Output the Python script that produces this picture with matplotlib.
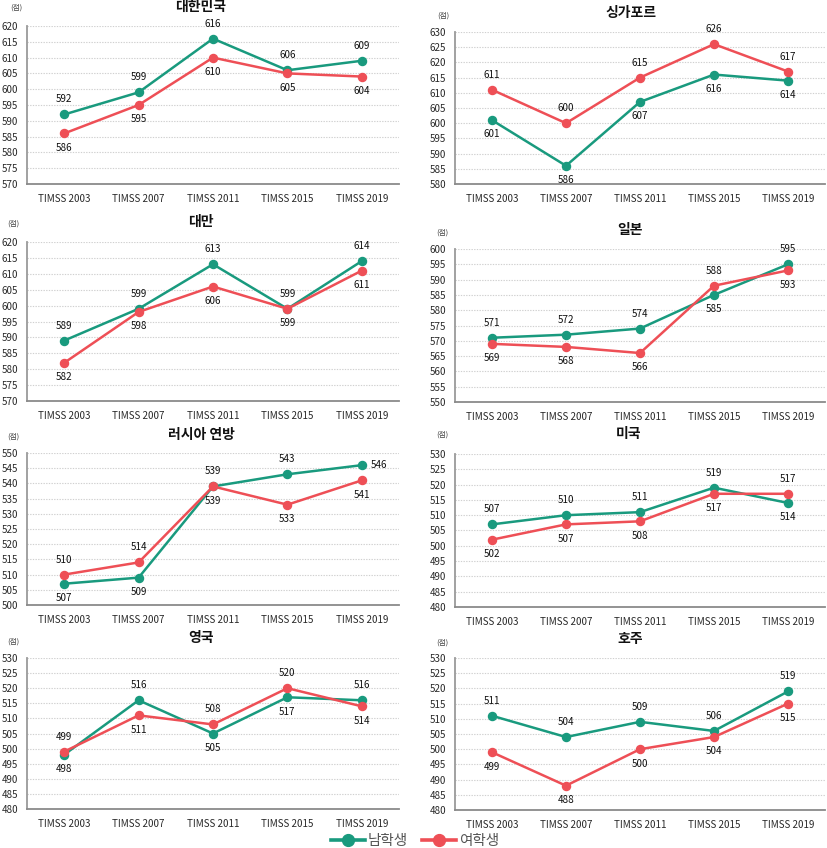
import matplotlib
matplotlib.use('Agg')
import matplotlib.pyplot as plt
from matplotlib.lines import Line2D

plt.rcParams['font.family'] = ['Noto Sans CJK KR', 'DejaVu Sans']

W, H = 827, 848
DPI = 100

years = ['TIMSS 2003', 'TIMSS 2007', 'TIMSS 2011', 'TIMSS 2015', 'TIMSS 2019']
countries = ['대한민국', '싱가포르', '대만', '일본', '러시아 연방', '미국', '영국', '호주']

male_kor = [592, 599, 616, 606, 609]
female_kor = [586, 595, 610, 605, 604]
male_sgp = [601, 586, 607, 616, 614]
female_sgp = [611, 600, 615, 626, 617]
male_twn = [589, 599, 613, 599, 614]
female_twn = [582, 598, 606, 599, 611]
male_jpn = [571, 572, 574, 585, 595]
female_jpn = [569, 568, 566, 588, 593]
male_rus = [507, 509, 539, 543, 546]
female_rus = [510, 514, 539, 533, 541]
male_usa = [507, 510, 511, 519, 514]
female_usa = [502, 507, 508, 517, 517]
male_gbr = [498, 516, 505, 517, 516]
female_gbr = [499, 511, 508, 520, 514]
male_aus = [511, 504, 509, 506, 519]
female_aus = [499, 488, 500, 504, 515]

y_ranges = [(570, 620), (580, 630), (570, 620), (550, 600),
            (500, 550), (480, 530), (480, 530), (480, 530)]

males = [male_kor, male_sgp, male_twn, male_jpn, male_rus, male_usa, male_gbr, male_aus]
females = [female_kor, female_sgp, female_twn, female_jpn, female_rus, female_usa, female_gbr, female_aus]

GREEN = '#199a7e'
RED = '#ee4f56'
TXT = '#2a2a2a'

# axes rectangles in pixels: left, top, right, bottom
rects = [(27, 26, 399, 184), (455, 32, 825, 184),
         (27, 242, 399, 401), (455, 249, 825, 402),
         (27, 453, 399, 605), (455, 454, 825, 607),
         (27, 658, 399, 809), (455, 658, 825, 810)]
title_pos = [(201, 7), (631, 13), (201, 222), (630, 230),
             (201, 435), (629, 434), (201, 638), (630, 639)]
unit_pos = [(16, 8), (443, 16), (13, 224), (442, 233),
            (13, 437), (442, 435), (13, 642), (442, 643)]

fig = plt.figure(figsize=(W / DPI, H / DPI), dpi=DPI)
fig.patch.set_facecolor('white')

for k in range(8):
    l, t, r, b = rects[k]
    ax = fig.add_axes([l / W, 1 - b / H, (r - l) / W, (b - t) / H])
    lo, hi = y_ranges[k]
    xs = list(range(len(years)))
    m = males[k]
    f = females[k]
    ax.plot(xs, m, color=GREEN, lw=1.8, marker='o', ms=5.8, zorder=3, clip_on=False)
    ax.plot(xs, f, color=RED, lw=1.8, marker='o', ms=5.8, zorder=4, clip_on=False)
    ax.set_xlim(-0.5, len(years) - 0.5)
    ax.set_ylim(lo, hi)
    ax.set_yticks(range(lo, hi + 1, 5))
    ax.set_xticks(xs)
    ax.set_xticklabels(years)
    ax.tick_params(axis='both', length=0, labelsize=7.1, colors=TXT)
    ax.tick_params(axis='y', pad=6.2)
    ax.tick_params(axis='x', pad=7)
    ax.grid(axis='y', color='#d0d0d0', lw=0.8, linestyle=(0, (1.2, 1.2)))
    ax.set_axisbelow(True)
    for s in ['top', 'right']:
        ax.spines[s].set_visible(False)
    ax.spines['left'].set_color('#9a9a9a')
    ax.spines['left'].set_linewidth(1.3)
    ax.spines['bottom'].set_color('#8a8a8a')
    ax.spines['bottom'].set_linewidth(1.3)

    for i in xs:
        if m[i] >= f[i]:
            pm, pf = 'above', 'below'
        else:
            pm, pf = 'below', 'above'
        if m[i] == f[i]:
            pm, pf = 'below', 'above'
        if k == 4 and i == len(xs) - 1:
            pm = 'right'
        for v, p in ((m[i], pm), (f[i], pf)):
            if p == 'above':
                off, ha = (0, 10.8), 'center'
            elif p == 'below':
                off, ha = (0, -10.3), 'center'
            else:
                off, ha = (6.5, 0), 'left'
            ax.annotate(str(v), (i, v), xytext=off, textcoords='offset points',
                        ha=ha, va='center', fontsize=7.1, color='#111111', zorder=5)

    tx, ty = title_pos[k]
    fig.text(tx / W, 1 - ty / H, countries[k], ha='center', va='center',
             fontsize=10, fontweight='bold', color='#111111')
    ux, uy = unit_pos[k]
    fig.text(ux / W, 1 - uy / H, '(점)', ha='center', va='center',
             fontsize=5.5, color='#444444')

handles = [Line2D([0], [0], color=GREEN, lw=2.6, marker='o', ms=8.5),
           Line2D([0], [0], color=RED, lw=2.6, marker='o', ms=8.5)]
leg = fig.legend(handles, ['남학생', '여학생'], loc='center', ncol=2,
                 bbox_to_anchor=(415 / W, 1 - 841 / H), frameon=False,
                 fontsize=10.5, handlelength=2.3, handletextpad=0.2,
                 columnspacing=1.0, borderaxespad=0, borderpad=0)
for t in leg.get_texts():
    t.set_color('#555555')

fig.savefig('out.png', dpi=DPI, facecolor='white')
